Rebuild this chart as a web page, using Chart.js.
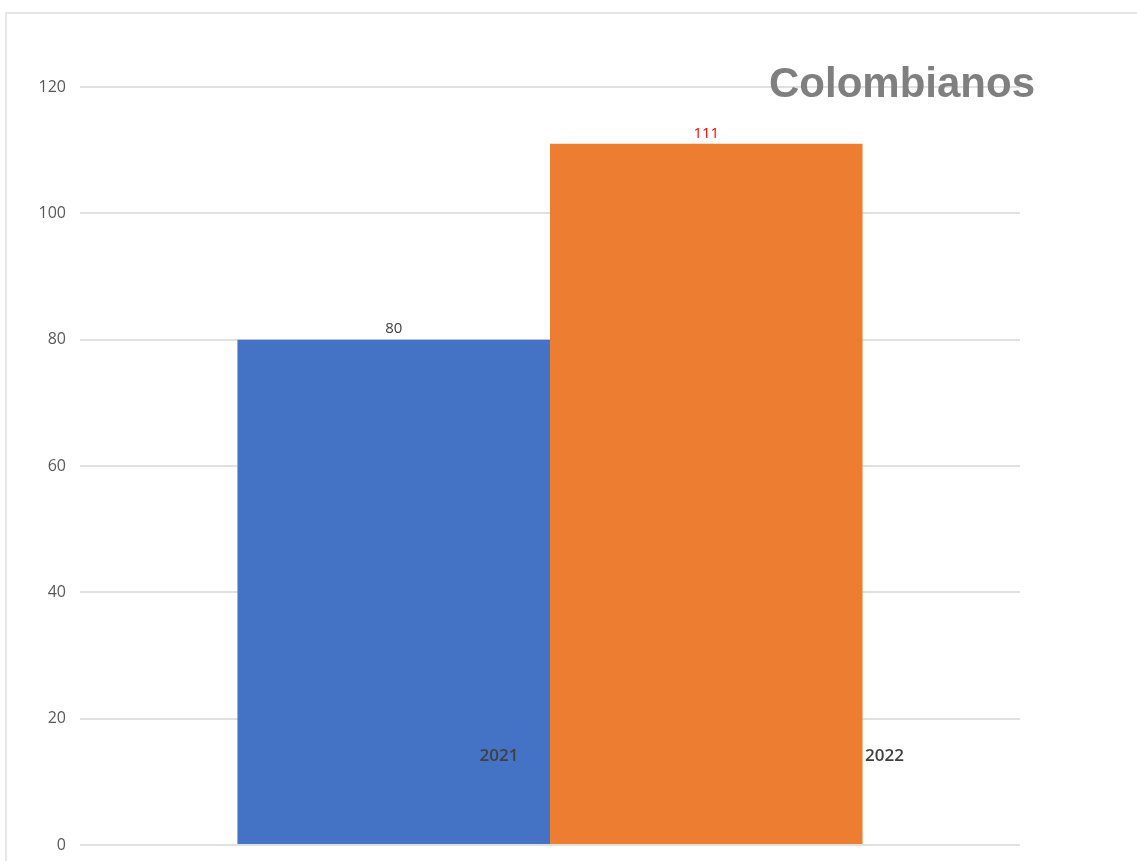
<!DOCTYPE html>
<html>
<head>
<meta charset="utf-8">
<script src="https://cdn.jsdelivr.net/npm/chart.js@4/dist/chart.umd.min.js"></script>
<style>
  html, body { margin: 0; padding: 0; background: #fff; overflow: hidden; }
  #frame { position: absolute; left: 5px; top: 12px; width: 1200px; height: 900px;
           border-left: 2px solid #e6e6e6; border-top: 2px solid #e6e6e6; }
  #wrap { position: absolute; left: 0; top: 0; width: 1137px; height: 861px; }
</style>
</head>
<body>
<div id="frame"></div>
<div id="wrap"><canvas id="myChart"></canvas></div>
<script>
const chartTitle = 'Colombianos';
const categories = [''];
const years = ['2021', '2022'];
const values = [80, 111];
const yTicks = [0, 20, 40, 60, 80, 100, 120];

const barColors = ['#4472C4', '#ED7D31'];
const valueColors = ['#404040', '#FF0000'];

// value labels above bars + year names + title drawn by hand
const labelsPlugin = {
    id: 'labels',
    afterDatasetsDraw(chart) {
        const ctx = chart.ctx;
        const area = chart.chartArea;
        const yScale = chart.scales.y;
        ctx.save();
        chart.data.datasets.forEach((ds, i) => {
            const bar = chart.getDatasetMeta(i).data[0];
            ctx.font = '15px "Open Sans"';
            ctx.fillStyle = valueColors[i];
            ctx.textAlign = 'center';
            ctx.textBaseline = 'bottom';
            ctx.fillText(ds.data[0], bar.x, bar.y - 3);

            // year label sits low inside the plot, next to the bar's right edge
            const right = bar.x + bar.width / 2;
            const offsets = [-51, 22];
            ctx.font = '600 17px "Open Sans"';
            ctx.fillStyle = '#404040';
            ctx.textBaseline = 'middle';
            ctx.fillText(ds.label, right + offsets[i], yScale.getPixelForValue(14));
        });
        ctx.font = 'bold 42px "Liberation Sans"';
        ctx.fillStyle = '#7F7F7F';
        ctx.textAlign = 'right';
        ctx.textBaseline = 'middle';
        ctx.fillText(chartTitle, area.right + 15, area.top - 2);
        ctx.restore();
    }
};

const ctx = document.getElementById('myChart').getContext('2d');
const myChart = new Chart(ctx, {
    type: 'bar',
    data: {
        labels: categories,
        datasets: years.map((y, i) => ({
            label: y,
            data: [values[i]],
            backgroundColor: barColors[i],
            barPercentage: 1,
            categoryPercentage: 0.665
        }))
    },
    options: {
        responsive: true,
        maintainAspectRatio: false,
        animation: false,
        layout: { padding: { left: 0, top: 87, right: 117, bottom: 16 } },
        plugins: {
            legend: { display: false },
            tooltip: { enabled: false }
        },
        scales: {
            x: { display: false },
            y: {
                min: 0,
                max: 120,
                afterBuildTicks: s => { s.ticks = yTicks.map(v => ({ value: v })); },
                afterFit: s => { s.width = 80; s.paddingTop = 0; s.paddingBottom = 0; },
                border: { display: false },
                grid: { color: '#e0e0e0', lineWidth: 2, drawTicks: false },
                ticks: {
                    padding: 14,
                    color: '#595959',
                    font: { family: 'Open Sans', size: 16 }
                }
            }
        }
    },
    plugins: [labelsPlugin]
});
</script>
</body>
</html>
